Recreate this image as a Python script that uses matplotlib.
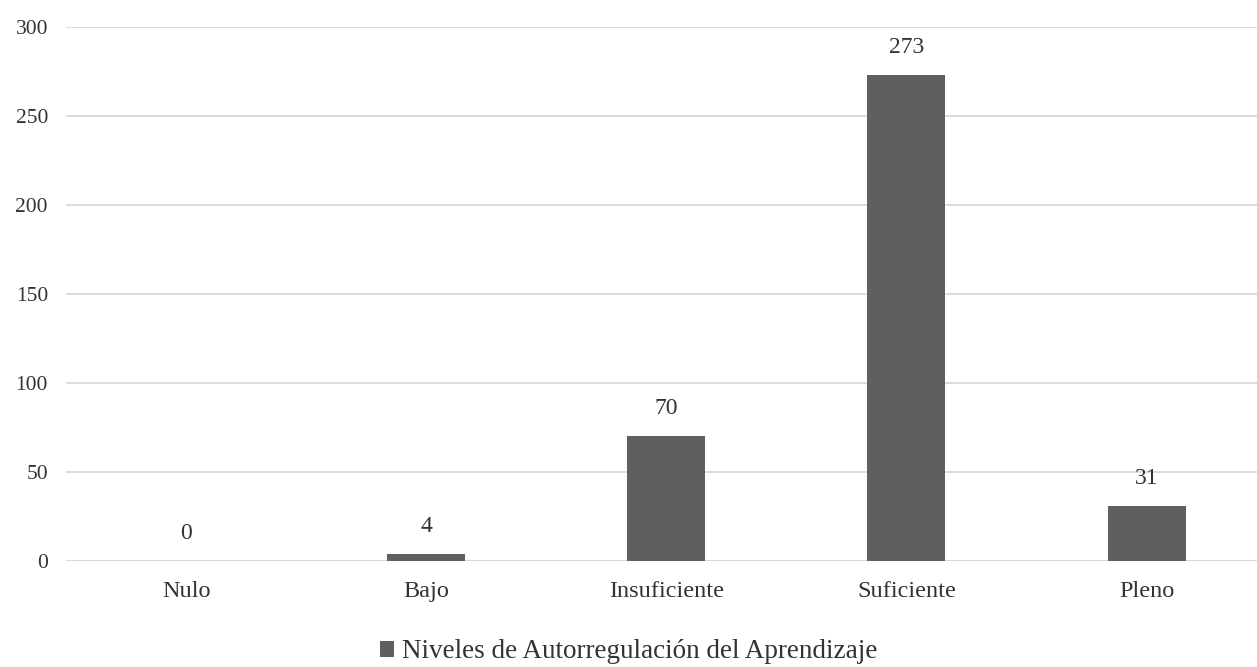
import matplotlib
matplotlib.use("Agg")
import matplotlib.pyplot as plt
from matplotlib.patches import Patch

categories = ["Nulo", "Bajo", "Insuficiente", "Suficiente", "Pleno"]
values = [0, 4, 70, 273, 31]
y_ticks = [0, 50, 100, 150, 200, 250, 300]
series_name = "Niveles de Autorregulación del Aprendizaje"

plt.rcParams["font.family"] = ["Liberation Serif", "DejaVu Serif"]

W, H = 1257, 667
fig = plt.figure(figsize=(W / 100, H / 100), dpi=100)
ax = fig.add_axes([66 / W, (H - 561) / H, (1257 - 66) / W, (561 - 27) / H])

text_color = "#333333"
bar_color = "#5f5f5f"
x = range(len(categories))
ax.bar(x, values, width=0.325, color=bar_color, zorder=3)

for xi, v in zip(x, values):
    ax.text(xi, v + 12.5, f"{v}", ha="center", va="baseline", fontsize=17, color=text_color)

ax.set_xlim(-0.5, 4.46)
ax.set_ylim(0, 300)
ax.set_yticks(y_ticks)
ax.set_yticklabels([str(t) for t in y_ticks], fontsize=15.5, color=text_color)
ax.set_xticks(list(x))
ax.set_xticklabels(categories, fontsize=17.5, color=text_color)
ax.tick_params(axis="both", length=0)
ax.tick_params(axis="y", pad=13)
ax.tick_params(axis="x", pad=14.5)

ax.yaxis.grid(True, color="#d9d9d9", linewidth=1.3, zorder=0)
for s in ax.spines.values():
    s.set_visible(False)
ax.axhline(0, color="#d9d9d9", linewidth=1.3, zorder=1)

fig.legend(handles=[Patch(facecolor=bar_color)], labels=[series_name],
           loc="center", bbox_to_anchor=(0.5, (H - 652) / H), frameon=False,
           fontsize=19.5, handlelength=0.5, handleheight=0.5, handletextpad=0.3,
           labelcolor=text_color)

fig.savefig("out.png", dpi=100)
